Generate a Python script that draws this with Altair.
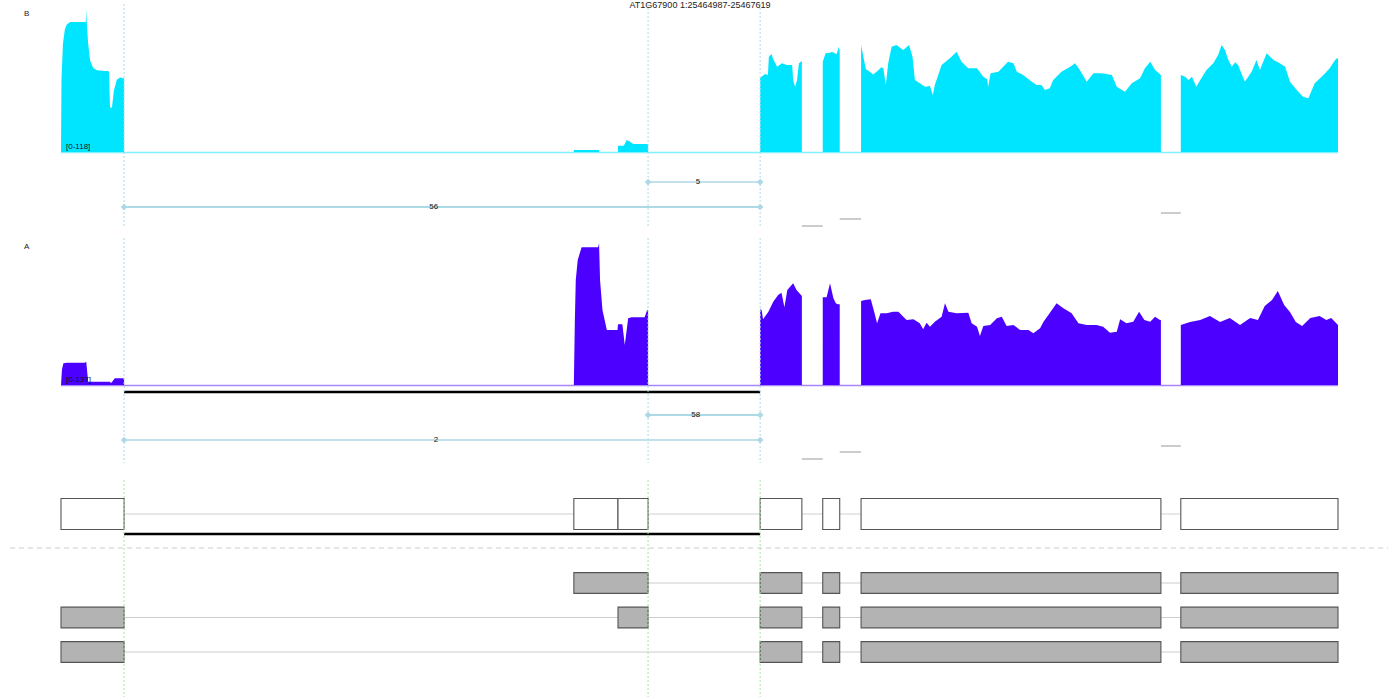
import altair as alt
import pandas as pd

# ---------------- data ----------------
REGION_START = 25464987
REGION_END = 25467619
TITLE = "AT1G67900 1:25464987-25467619"

SAMPLES = ["B", "A"]
SAMPLE_MAX = {"B": 118, "A": 137}

# coverage: (offset in bp from REGION_START, read depth)
B_COVERAGE = [
    (0, 0), (1, 60), (4, 90), (8, 102), (12, 106), (19, 108), (49, 108), (51, 108), (52, 118), (53, 108),
    (56, 90), (60, 76), (66, 70), (74, 68), (99, 67), (101, 37), (105, 37), (109, 51), (115, 60), (122, 62),
    (130, 61), (130, 0),
    (1057, 0), (1057, 1.7), (1109, 1.7), (1109, 0),
    (1148, 0), (1148, 5.2), (1160, 5.2), (1166, 10), (1173, 8.6), (1179, 6.6), (1210, 6.6), (1210, 0),
    (1441, 0), (1441, 61.5), (1451, 64.8), (1457, 64), (1459, 79.2), (1465, 81.4), (1467, 77.9), (1476, 70.9),
    (1486, 73.7), (1496, 72.3), (1507, 72.3), (1509, 59.8), (1513, 54.3), (1517, 59.8), (1521, 73.7),
    (1527, 75.6), (1527, 0),
    (1570, 0), (1570, 75), (1576, 82), (1585, 82.5), (1589, 83.3), (1595, 82), (1599, 81.4), (1603, 87.5),
    (1605, 84), (1605, 0),
    (1649, 0), (1649, 88.9), (1653, 80.6), (1659, 68.7), (1667, 66.7), (1674, 64.5), (1681, 66.7), (1691, 70.4),
    (1695, 69.5), (1700, 55.7), (1705, 73.7), (1712, 87.5), (1722, 88.9), (1736, 84.8), (1748, 88.9),
    (1755, 79.2), (1760, 59.8), (1770, 57.1), (1781, 54.3), (1791, 54.8), (1797, 47.4), (1801, 55.7),
    (1815, 72.3), (1832, 77.9), (1846, 83.3), (1856, 75), (1870, 69.5), (1888, 69.5), (1901, 62.6),
    (1909, 60.4), (1911, 54.3), (1916, 65.4), (1932, 66.7), (1952, 75), (1963, 73.7), (1970, 66.7),
    (1983, 64), (2001, 58.4), (2011, 55.7), (2021, 55.7), (2028, 51.5), (2038, 52.9), (2045, 59.8),
    (2062, 66.7), (2080, 70.9), (2090, 73.7), (2100, 68.1), (2114, 58.4), (2128, 65.4), (2145, 65.4),
    (2166, 64), (2176, 54.3), (2193, 50.1), (2207, 57.1), (2224, 61.2), (2234, 69.5), (2245, 75),
    (2255, 68.1), (2267, 64), (2267, 0),
    (2308, 0), (2308, 64), (2317, 62.6), (2324, 59.8), (2331, 62.6), (2340, 54.3), (2348, 59.8), (2361, 68.1),
    (2375, 73.7), (2385, 80.6), (2392, 88.9), (2399, 84.8), (2406, 76.5), (2413, 70.9), (2420, 74.5),
    (2426, 72.3), (2440, 58.4), (2454, 66.7), (2464, 76.5), (2471, 68.1), (2485, 82), (2499, 76.5),
    (2512, 73.7), (2523, 70.9), (2533, 58.4), (2547, 51.5), (2560, 46), (2571, 44.6), (2584, 57.1),
    (2602, 64), (2615, 69.5), (2626, 76.5), (2630, 77.9), (2632, 77.9), (2632, 0),
]

A_COVERAGE = [
    (0, 0), (2, 15), (5, 20.9), (12, 21.5), (49, 21.5), (52, 22.5), (56, 3.2), (101, 3.2), (103, 1.6),
    (111, 6.5), (130, 6.5), (130, 0),
    (1057, 0), (1059, 60), (1061, 101.3), (1065, 120.6), (1073, 132.9), (1107, 132.9), (1109, 136.7),
    (1111, 101.3), (1116, 72.4), (1125, 53.1), (1147, 53.1), (1148, 58.6), (1157, 58.6), (1162, 38.6),
    (1169, 64.3), (1176, 65.3), (1203, 65.3), (1208, 72.4), (1210, 72.4), (1210, 0),
    (1441, 0), (1441, 73), (1444, 72.4), (1447, 63.4), (1458, 70.7), (1468, 80.4), (1478, 86.8), (1485, 89),
    (1491, 75), (1497, 91.7), (1509, 98.1), (1516, 91.7), (1527, 85.9), (1527, 0),
    (1570, 0), (1570, 84.6), (1578, 84.6), (1585, 98.1), (1592, 83.6), (1597, 78.8), (1601, 77.9),
    (1605, 77.9), (1605, 0),
    (1649, 0), (1649, 81), (1657, 82), (1669, 82.7), (1676, 70.7), (1682, 59.5), (1689, 69.2), (1702, 69.2),
    (1715, 70.7), (1726, 70.7), (1736, 65.9), (1743, 62.7), (1757, 63.4), (1770, 59.5), (1777, 53.7),
    (1784, 60.1), (1791, 56.2), (1801, 61.1), (1815, 65.9), (1822, 78.8), (1829, 70.7), (1846, 69.2),
    (1870, 69.8), (1877, 59.5), (1888, 56.2), (1894, 47.3), (1901, 56.9), (1915, 57.9), (1929, 64.4),
    (1939, 65.9), (1949, 56.9), (1963, 57.9), (1977, 53.1), (1994, 53.1), (2004, 49.9), (2018, 54.7),
    (2025, 61.1), (2035, 67.5), (2052, 78.8), (2066, 74), (2083, 69.2), (2097, 59.5), (2114, 57.9),
    (2134, 57.9), (2148, 56.2), (2162, 50.5), (2176, 51.4), (2183, 63.4), (2196, 59.5), (2210, 61.1),
    (2222, 70.7), (2233, 62.7), (2245, 61.1), (2255, 65.9), (2265, 62.7), (2267, 62.7), (2267, 0),
    (2308, 0), (2308, 57.9), (2327, 60.8), (2348, 62.7), (2368, 66.6), (2389, 60.8), (2409, 64.6),
    (2430, 57.9), (2451, 64.6), (2467, 62.7), (2481, 76.2), (2496, 82), (2508, 90.7), (2521, 77.2),
    (2533, 70.4), (2545, 60.8), (2558, 56.9), (2575, 64.6), (2594, 66.6), (2608, 62.7), (2618, 64.6),
    (2632, 57.9), (2632, 0),
]

# exon model (offsets from REGION_START)
COLLAPSED_EXONS = [(0, 130), (1057, 1148), (1148, 1210), (1441, 1527), (1570, 1605), (1649, 2267), (2308, 2632)]
TRANSCRIPTS = [
    [(1057, 1210), (1441, 1527), (1570, 1605), (1649, 2267), (2308, 2632)],
    [(0, 130), (1148, 1210), (1441, 1527), (1570, 1605), (1649, 2267), (2308, 2632)],
    [(0, 130), (1441, 1527), (1570, 1605), (1649, 2267), (2308, 2632)],
]

# junctions
JUNC_START = [1210, 130, 1527, 1605, 2267]
JUNC_END = [1441, 1441, 1570, 1649, 2308]
JUNC_COUNTS = {"B": [5, 56, None, None, None], "A": [58, 2, None, None, None]}

HIGHLIGHT = (130, 1441)
SPLICE_SITES = [130, 1210, 1441]

# ---------------- layout / style ----------------
W, H = 1400, 700
X_PIX = [61, 1338]
TRACK_OFFSET = {"B": 0, "A": 233}
COV_BASE, COV_TOP = 152, 10
JUNC_Y = [182, 207, 226, 219, 213]
FILL = {"B": "#00e5ff", "A": "#4c00ff"}
BASE_COLOR = {"B": "#7ff0ff", "A": "#a686ff"}
JUNC_COLOR = "#add8e6"
FONT = "Liberation Sans"

xs = alt.Scale(domain=[REGION_START, REGION_END], range=X_PIX, nice=False, zero=False)
PIX = alt.Scale(domain=[0, H], range=[0, H], nice=False, zero=False)


def X(f):
    return alt.X(f"{f}:Q", scale=xs, axis=None)


def coverage_frame(pairs):
    # make the x of vertical steps strictly increasing so the path sorts cleanly
    pos, dep = [], []
    last = None
    for o, d in pairs:
        p = REGION_START + o
        if last is not None and p <= last:
            p = last + 0.02
        pos.append(p)
        dep.append(d)
        last = p
    return pd.DataFrame({"pos": pos, "depth": dep})


one = pd.DataFrame({"k": [0]})
layers = []
text_layers = []

for s in SAMPLES:
    dy = TRACK_OFFSET[s]
    # baseline
    bl = pd.DataFrame({"s": [REGION_START], "e": [REGION_END]})
    layers.append(alt.Chart(bl).mark_rule(color=BASE_COLOR[s], strokeWidth=1.5).encode(
        x=X("s"), x2="e", y=alt.value(COV_BASE + dy + 0.5)))
    # coverage area
    df = coverage_frame(B_COVERAGE if s == "B" else A_COVERAGE)
    layers.append(alt.Chart(df).mark_area(color=FILL[s], interpolate="linear").encode(
        x=X("pos"),
        y=alt.Y("depth:Q", stack=None,
                scale=alt.Scale(domain=[0, SAMPLE_MAX[s]], range=[COV_BASE + dy, COV_TOP + dy],
                                nice=False, zero=True), axis=None)))
    # sample label & range
    text_layers.append(alt.Chart(one).mark_text(text=s, font=FONT, fontSize=8, align="left", baseline="middle",
                                                color="#222").encode(x=alt.value(24), y=alt.value(14 + dy)))
    rl = pd.DataFrame({"p": [REGION_START]})
    text_layers.append(alt.Chart(rl).mark_text(text=f"[0-{SAMPLE_MAX[s]}]", font=FONT, fontSize=8, align="left",
                                               baseline="middle", dx=5, color="#111").encode(
        x=X("p"), y=alt.value(COV_BASE - 5 + dy)))
    # junctions
    jd = pd.DataFrame({"s": [REGION_START + v for v in JUNC_START],
                       "e": [REGION_START + v for v in JUNC_END],
                       "y": [v + dy for v in JUNC_Y],
                       "count": JUNC_COUNTS[s]})
    jd["mid"] = (jd["s"] + jd["e"]) / 2
    gray = jd[jd["count"].isna()]
    lab = jd[jd["count"].notna()].copy()
    lab["label"] = lab["count"].astype(int).astype(str)
    layers.append(alt.Chart(gray).mark_rule(color="#cccccc", strokeWidth=2).encode(
        x=X("s"), x2="e", y=alt.Y("y:Q", scale=PIX, axis=None)))
    layers.append(alt.Chart(lab).mark_rule(color=JUNC_COLOR).encode(
        x=X("s"), x2="e", y=alt.Y("y:Q", scale=PIX, axis=None),
        strokeWidth=alt.StrokeWidth("count:Q", scale=alt.Scale(domain=[0, 60], range=[1.3, 2.2]), legend=None)))
    ends = pd.concat([lab[["s", "y"]].rename(columns={"s": "p"}), lab[["e", "y"]].rename(columns={"e": "p"})])
    layers.append(alt.Chart(ends).mark_point(shape="diamond", filled=True, size=45, color=JUNC_COLOR,
                                             opacity=1).encode(
        x=X("p"), y=alt.Y("y:Q", scale=PIX, axis=None)))
    text_layers.append(alt.Chart(lab).mark_text(font=FONT, fontSize=8, align="right", baseline="middle", dx=-4,
                                                color="#111").encode(
        x=X("mid"), y=alt.Y("y:Q", scale=PIX, axis=None), text="label:N"))

# highlighted intron underlines
hl = pd.DataFrame({"s": [REGION_START + HIGHLIGHT[0]], "e": [REGION_START + HIGHLIGHT[1]]})
for yy in (392, 534):
    layers.append(alt.Chart(hl).mark_rule(color="black", strokeWidth=2.5).encode(
        x=X("s"), x2="e", y=alt.value(yy)))

# collapsed gene row
ce = pd.DataFrame({"s": [REGION_START + a for a, _ in COLLAPSED_EXONS],
                   "e": [REGION_START + b for _, b in COLLAPSED_EXONS]})
cl = pd.DataFrame({"s": [REGION_START + COLLAPSED_EXONS[0][1]], "e": [REGION_START + COLLAPSED_EXONS[-1][0]]})
layers.append(alt.Chart(cl).mark_rule(color="#d0d0d0", strokeWidth=1).encode(
    x=X("s"), x2="e", y=alt.value(514)))
layers.append(alt.Chart(ce).mark_rect(fill="white", stroke="#555555", strokeWidth=1.1).encode(
    x=X("s"), x2="e", y=alt.value(498.5), y2=alt.value(529.5)))

# separator
layers.append(alt.Chart(one).mark_rule(color="#cccccc", strokeDash=[5, 4], strokeWidth=1).encode(
    x=alt.value(10), x2=alt.value(1388), y=alt.value(548)))

# transcripts
rows = []
lines = []
for t, exs in enumerate(TRANSCRIPTS):
    for a, b in exs:
        rows.append({"tx": t, "s": REGION_START + a, "e": REGION_START + b, "lo": t - 0.3, "hi": t + 0.3})
    lines.append({"tx": t, "s": REGION_START + exs[0][1], "e": REGION_START + exs[-1][0]})
ROW_SCALE = alt.Scale(domain=[0, len(TRANSCRIPTS) - 1], range=[583, 652], nice=False, zero=False)
layers.append(alt.Chart(pd.DataFrame(lines)).mark_rule(color="#cccccc", strokeWidth=1).encode(
    x=X("s"), x2="e", y=alt.Y("tx:Q", scale=ROW_SCALE, axis=None)))
layers.append(alt.Chart(pd.DataFrame(rows)).mark_rect(fill="#b3b3b3", stroke="#555555", strokeWidth=1.1).encode(
    x=X("s"), x2="e", y=alt.Y("lo:Q", scale=ROW_SCALE, axis=None), y2="hi:Q"))

# splice-site guides
ss = pd.DataFrame({"p": [REGION_START + v for v in SPLICE_SITES]})
for (y0, y1, col) in ((4, 228, "#add8e6"), (238, 463, "#add8e6"), (480, 697, "#98ee98")):
    layers.append(alt.Chart(ss).mark_rule(color=col, strokeDash=[2, 2], strokeWidth=1).encode(
        x=X("p"), y=alt.value(y0), y2=alt.value(y1)))

# title
text_layers.append(alt.Chart(one).mark_text(text=TITLE, font=FONT, fontSize=9, align="center",
                                            baseline="middle", color="#222").encode(
    x=alt.value(700), y=alt.value(5)))

chart = alt.layer(*(layers + text_layers)).resolve_scale(y="independent").properties(
    width=W, height=H, padding=0, autosize="none", background="white"
).configure_view(stroke=None)

chart.save("out.html", embed_options={"renderer": "svg", "actions": False})
